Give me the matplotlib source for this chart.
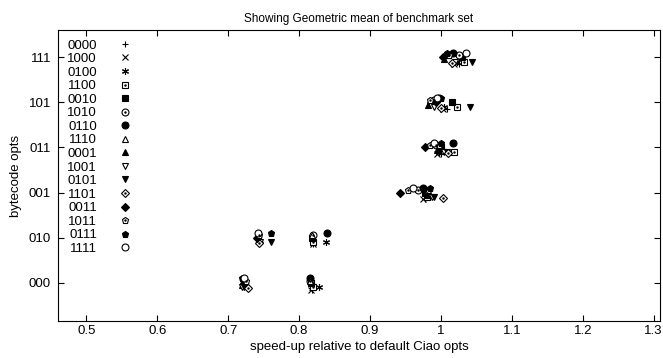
import numpy as np
import matplotlib
matplotlib.use('Agg')
import matplotlib.pyplot as plt
from matplotlib.lines import Line2D

plt.rcParams['font.family'] = ['Liberation Sans', 'DejaVu Sans']

# y categories, bottom to top
cats = ['000', '010', '001', '011', '101', '111']

series = ['0000', '1000', '0100', '1100', '0010', '1010', '0110', '1110',
          '0001', '1001', '0101', '1101', '0011', '1011', '0111', '1111']

# speed-up per series for each category (000, 010, 001, 011, 101, 111)
speedup = {
    '0000': [0.818, 0.820, 0.978, 1.000, 1.008, 1.025],
    '1000': [0.817, 0.820, 0.975, 0.995, 1.003, 1.018],
    '0100': [0.828, 0.838, 0.985, 0.997, 1.005, 1.022],
    '1100': [0.820, 0.820, 0.980, 1.018, 1.023, 1.033],
    '0010': [0.817, 0.818, 0.978, 1.000, 1.015, 1.030],
    '1010': [0.815, 0.820, 0.967, 0.993, 0.990, 1.025],
    '0110': [0.815, 0.840, 0.975, 1.017, 0.997, 1.017],
    '1110': [0.815, 0.818, 0.982, 0.997, 0.985, 1.010],
    '0001': [0.720, 0.745, 0.980, 0.995, 0.982, 1.005],
    '1001': [0.720, 0.745, 0.988, 1.005, 0.990, 1.020],
    '0101': [0.722, 0.760, 0.990, 1.008, 1.041, 1.044],
    '1101': [0.728, 0.743, 1.003, 1.010, 1.000, 1.015],
    '0011': [0.722, 0.741, 0.942, 0.977, 0.993, 1.003],
    '1011': [0.725, 0.744, 0.953, 0.985, 0.985, 1.012],
    '0111': [0.720, 0.760, 0.985, 1.000, 1.000, 1.008],
    '1111': [0.722, 0.742, 0.960, 0.990, 0.995, 1.035],
}

# small vertical jitter of each series inside a category row
jitter = [-0.15, -0.15, -0.10, -0.10, 0.00, 0.05, 0.10, 0.05,
          -0.05, -0.10, -0.10, -0.12, 0.00, 0.05, 0.10, 0.10]

# (marker, filled, dot inside)
styles = [('+', False, False), ('x', False, False), ((6, 2, 0), False, False),
          ('s', False, True), ('s', True, False), ('o', False, True),
          ('o', True, False), ('^', False, False), ('^', True, False),
          ('v', False, False), ('v', True, False), ('D', False, True),
          ('D', True, False), ('p', False, True), ('p', True, False),
          ('o', False, False)]

fig = plt.figure(figsize=(6.63, 3.58), dpi=100)
ax = fig.add_axes([0.0875, 0.103, 0.908, 0.813])

y = np.arange(len(cats))
handles = []
for i, name in enumerate(series):
    m, filled, dot = styles[i]
    ms = 5 if m != 'D' else 4
    fc = 'black' if filled else 'white'
    ax.plot(speedup[name], y + jitter[i], linestyle='none', marker=m,
            markersize=ms, markerfacecolor=fc, markeredgecolor='black',
            markeredgewidth=0.8, zorder=3)
    h = Line2D([], [], linestyle='none', marker=m, markersize=ms,
               markerfacecolor=fc, markeredgecolor='black', markeredgewidth=0.8)
    if dot:
        ax.plot(speedup[name], y + jitter[i], linestyle='none', marker='.',
                markersize=1.5, color='black', zorder=4)
        hd = Line2D([], [], linestyle='none', marker='.', markersize=1.5, color='black')
        h = (h, hd)
    handles.append(h)

ax.set_xlim(0.46, 1.309)
ax.set_ylim(-0.85, 5.6)
ax.set_xticks([0.5, 0.6, 0.7, 0.8, 0.9, 1.0, 1.1, 1.2, 1.3])
ax.set_xticklabels(['0.5', '0.6', '0.7', '0.8', '0.9', '1', '1.1', '1.2', '1.3'])
ax.set_yticks(y)
ax.set_yticklabels(cats)
ax.tick_params(direction='in', length=4, width=0.8, top=True, right=True,
               labelsize=9.5)
ax.tick_params(axis='x', pad=3)
ax.tick_params(axis='y', pad=5)
for s in ax.spines.values():
    s.set_linewidth(0.8)

ax.set_xlabel('speed-up relative to default Ciao opts', fontsize=9.5, labelpad=3)
ax.set_ylabel('bytecode opts', fontsize=9.5, labelpad=5)
ax.set_title('Showing Geometric mean of benchmark set', fontsize=8.5, pad=6)

leg = ax.legend(handles, series, loc='upper left', bbox_to_anchor=(0.0, 1.0),
                frameon=False, markerfirst=False, fontsize=9.5, labelspacing=0.1,
                handlelength=1.0, handletextpad=1.6, borderaxespad=0.3)

fig.savefig('out.png', dpi=100)
